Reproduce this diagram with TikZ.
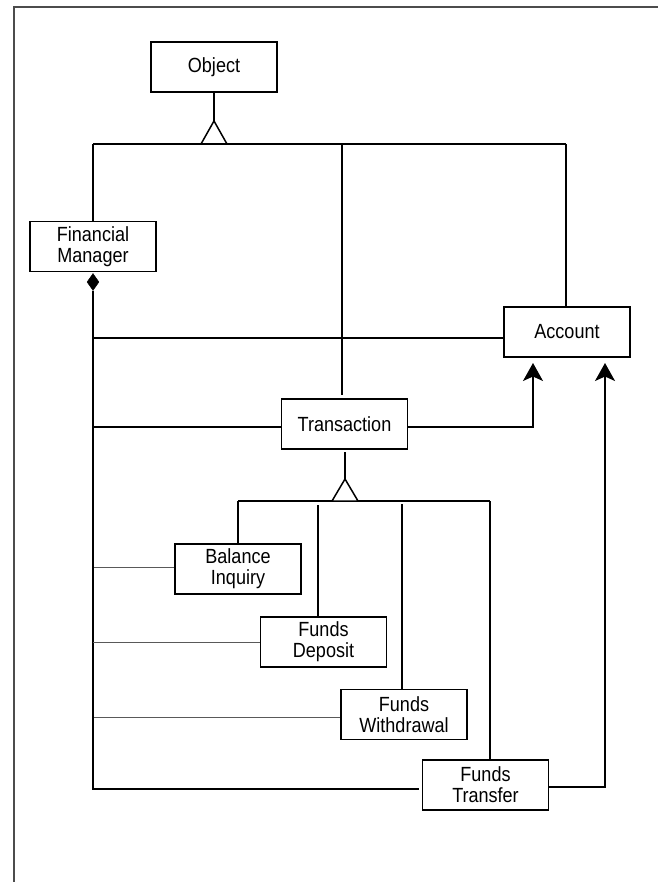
\documentclass[tikz,border=0pt]{standalone}
\usepackage{fontspec}
\setmainfont{Liberation Sans}[FakeStretch=0.88]
\usetikzlibrary{arrows.meta,shapes.geometric}
\begin{document}
\begin{tikzpicture}[x=1pt,y=-1pt,
  classbox/.style={draw,line width=1.6pt,fill=white,minimum width=126pt,minimum height=50pt,
    inner sep=0pt,align=center,font=\fontsize{20.5}{21}\selectfont},
  link/.style={line width=1.5pt},
  thin link/.style={line width=0.9pt,draw=black!65},
  frame/.style={line width=1.6pt,draw=black!70},
  gen/.style={draw,line width=1.5pt,fill=white,line join=miter},
  toarrow/.style={link,-{Stealth[length=18pt,width=20pt,inset=4.5pt]}}]
\useasboundingbox (0,0) rectangle (658,882);

% page frame
\coordinate (fl) at (14,882);
\coordinate (fc) at (14,7);
\coordinate (fr) at (658,7);
\draw[frame] (fl) -- (fc) -- (fr);

% classes
\node[classbox] (obj) at (214,67) {Object};
\node[classbox] (fm)  at (93,246.5) {Financial\\Manager};
\node[classbox] (acc) at (567,332) {Account};
\node[classbox] (tr)  at (344.5,424) {Transaction};
\node[classbox] (bi)  at (238,569) {Balance\\Inquiry};
\node[classbox] (fd)  at (323.5,642) {Funds\\Deposit};
\node[classbox] (fw)  at (404,714.5) {Funds\\Withdrawal};
\node[classbox] (ft)  at (485.5,785) {Funds\\Transfer};

% generalisation to Object
\coordinate (g1a) at (214,121);
\coordinate (g1l) at (201,144);
\coordinate (g1r) at (227,144);
\coordinate (bus1l) at (93,144);
\coordinate (bus1m) at (342,144);
\coordinate (bus1r) at (566,144);
\draw[link] (obj.south) -- (g1a);
\draw[link] (bus1l) -- (bus1r);
\draw[gen] (g1a) -- (g1l) -- (g1r) -- cycle;
\draw[link] (bus1l) -- (fm.north -| bus1l);
\coordinate (trtop) at (342,395);
\draw[link] (bus1m) -- (trtop);
\draw[link] (bus1r) -- (acc.north -| bus1r);

% composition: Financial Manager owns the rest
\node[diamond,fill=black,draw=black,inner sep=0pt,minimum width=12pt,minimum height=17pt,anchor=north]
  (dia) at ([yshift=-1pt]fm.south) {};
\coordinate (c1) at (93,338);
\coordinate (c2) at (93,789);
\coordinate (c3) at (419,789);
\draw[link] (dia.south) -- (c1) -- (acc.west |- c1);
\draw[link] (c1) -- (c2) -- (c3);

% Transaction links
\coordinate (t1) at (93,427);
\draw[link] (t1) -- (tr.west |- t1);
\coordinate (a1) at (533,427);
\coordinate (a1t) at (533,363);
\draw[toarrow] (tr.east |- a1) -- (a1) -- (a1t);
\coordinate (a2) at (605,787);
\coordinate (a2t) at (605,363);
\draw[toarrow] (ft.east |- a2) -- (a2) -- (a2t);

% generalisation to Transaction
\coordinate (g2a) at (345,479);
\coordinate (g2l) at (332,501);
\coordinate (g2r) at (358,501);
\coordinate (bus2l) at (238,501);
\coordinate (bus2r) at (490,501);
\draw[link] (345,452) -- (g2a);
\draw[link] (bus2l) -- (bus2r);
\draw[gen] (g2a) -- (g2l) -- (g2r) -- cycle;
\draw[link] (bus2l) -- (bi.north);
\coordinate (d1) at (318,505);
\draw[link] (d1) -- (fd.north -| d1);
\coordinate (w1) at (402,504);
\draw[link] (w1) -- (fw.north -| w1);
\draw[link] (bus2r) -- (ft.north -| bus2r);

% thin ties to the owner line
\coordinate (l1) at (94,567);
\coordinate (l2) at (93,642);
\coordinate (l3) at (94,717);
\draw[thin link] (l1) -- (bi.west |- l1);
\draw[thin link] (l2) -- (fd.west |- l2);
\draw[thin link] (l3) -- (fw.west |- l3);
\end{tikzpicture}
\end{document}
